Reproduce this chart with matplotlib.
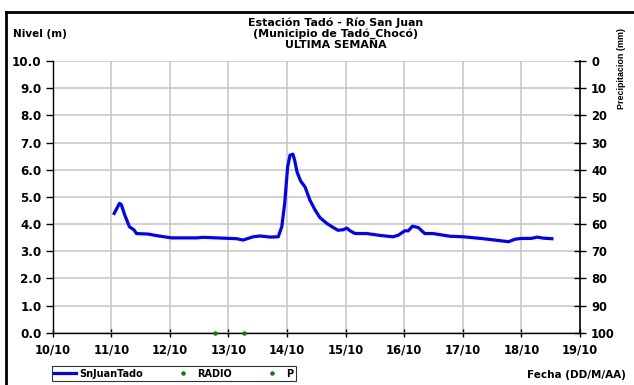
import matplotlib
matplotlib.use("Agg")
import matplotlib.pyplot as plt
from matplotlib.lines import Line2D

plt.rcParams['font.family'] = ['DejaVu Sans']
plt.rcParams['font.weight'] = 'bold'

# nivel del rio, dia de octubre (fraccion) y metros
dias = [11.05, 11.14, 11.17, 11.23, 11.31, 11.39, 11.43, 11.63, 11.78, 12.03,
        12.46, 12.57, 12.91, 13.14, 13.25, 13.42, 13.54, 13.71, 13.85, 13.91,
        13.96, 14.01, 14.05, 14.10, 14.13, 14.17, 14.23, 14.31, 14.39, 14.48,
        14.56, 14.68, 14.79, 14.87, 14.96, 15.02, 15.07, 15.16, 15.36, 15.59,
        15.81, 15.90, 16.01, 16.07, 16.14, 16.24, 16.35, 16.49, 16.78, 17.01,
        17.35, 17.78, 17.89, 18.00, 18.17, 18.27, 18.37, 18.52]
nivel = [4.39, 4.76, 4.72, 4.33, 3.90, 3.78, 3.65, 3.63, 3.57, 3.49,
         3.49, 3.51, 3.48, 3.46, 3.41, 3.53, 3.56, 3.52, 3.53, 3.90,
         4.76, 6.10, 6.53, 6.57, 6.35, 5.92, 5.59, 5.35, 4.88, 4.51,
         4.24, 4.02, 3.87, 3.77, 3.79, 3.85, 3.76, 3.65, 3.65, 3.58,
         3.53, 3.59, 3.75, 3.75, 3.92, 3.87, 3.65, 3.65, 3.55, 3.53,
         3.46, 3.35, 3.44, 3.47, 3.47, 3.52, 3.48, 3.46]

radio_dias = [12.77]
radio_val = [0.0]
p_dias = [13.27]
p_val = [0.0]

xticks = [10, 11, 12, 13, 14, 15, 16, 17, 18, 19]
xlabels = ['10/10', '11/10', '12/10', '13/10', '14/10', '15/10', '16/10',
           '17/10', '18/10', '19/10']
yticks = [0, 1, 2, 3, 4, 5, 6, 7, 8, 9, 10]
pticks = [0, 10, 20, 30, 40, 50, 60, 70, 80, 90, 100]

fig = plt.figure(figsize=(6.34, 3.85), dpi=100)
ax = fig.add_axes([0.0831, 0.1358, 0.8317, 0.7058])

ax.plot(dias, nivel, color='#0000ff', lw=2.3, solid_joinstyle='round')
ax.plot(radio_dias, radio_val, 'o', color='#008000', ms=2.2, clip_on=False, zorder=5)
ax.plot(p_dias, p_val, 'o', color='#008000', ms=2.2, clip_on=False, zorder=5)

ax.set_xlim(10, 19)
ax.set_ylim(0, 10)
ax.set_xticks(xticks)
ax.set_xticklabels(xlabels)
ax.set_yticks(yticks)
ax.set_yticklabels(['%.1f' % v for v in yticks])
ax.grid(True, color='#c8c8c8', lw=1.2)
ax.set_axisbelow(True)
for s in ['top', 'right']:
    ax.spines[s].set_visible(False)
ax.spines['left'].set_linewidth(1.0)
ax.spines['bottom'].set_linewidth(1.0)
ax.tick_params(axis='y', direction='out', length=5, width=1, labelsize=8.6, pad=3)
ax.tick_params(axis='x', direction='inout', length=6, width=1, labelsize=8.3, pad=5)

ax2 = ax.twinx()
ax2.set_ylim(100, 0)
ax2.set_yticks(pticks)
ax2.set_yticklabels([str(v) for v in pticks])
for s in ['top', 'left', 'bottom']:
    ax2.spines[s].set_visible(False)
ax2.spines['right'].set_linewidth(1.2)
ax2.tick_params(axis='y', direction='inout', length=8, width=1, labelsize=8.3, pad=4)
for t in ax.get_xticklabels() + ax.get_yticklabels() + ax2.get_yticklabels():
    t.set_fontweight('bold')

fig.text(0.53, 0.940, 'Estación Tadó - Río San Juan', ha='center', va='center', fontsize=7.9)
fig.text(0.53, 0.912, '(Municipio de Tadó_Chocó)', ha='center', va='center', fontsize=7.9)
fig.text(0.53, 0.884, 'ULTIMA SEMANA', ha='center', va='center', fontsize=7.9)
fig.text(0.02, 0.912, 'Nivel (m)', ha='left', va='center', fontsize=7.5)
fig.text(0.981, 0.822, 'Precipitacion (mm)', ha='center', va='center', rotation=90,
         fontsize=6.4, family='Liberation Sans')
fig.text(0.987, 0.026, 'Fecha (DD/M/AA)', ha='right', va='center', fontsize=7.5)

handles = [Line2D([], [], color='#0000ff', lw=2.3),
           Line2D([], [], ls='', marker='o', color='#008000', ms=2.2),
           Line2D([], [], ls='', marker='o', color='#008000', ms=2.2)]
leg = fig.legend(handles, ['SnJuanTado', 'RADIO', 'P'], ncol=3,
                 loc='lower left', bbox_to_anchor=(0.082, 0.010, 0.385, 0.047),
                 mode='expand', fontsize=7, frameon=True, fancybox=False,
                 handlelength=2.2, handletextpad=0.4, borderpad=0.25,
                 borderaxespad=0)
leg.get_frame().set_edgecolor('black')
leg.get_frame().set_linewidth(0.8)
for t in leg.get_texts():
    t.set_fontweight('bold')

# marco exterior
fig.add_artist(Line2D([0.0095, 0.0095], [0.0, 0.97], color='black', lw=2.0))
fig.add_artist(Line2D([0.0095, 1.0], [0.97, 0.97], color='black', lw=2.0))

fig.savefig('out.png', dpi=100)
